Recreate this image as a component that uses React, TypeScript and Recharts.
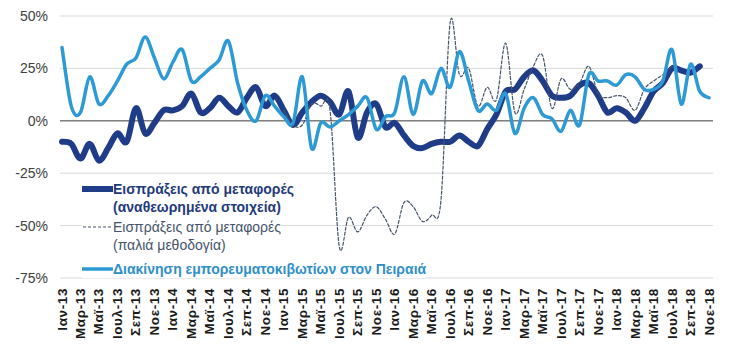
import { CartesianGrid, Line, LineChart, ReferenceLine, XAxis, YAxis } from 'recharts'

// Εισπράξεις από μεταφορές vs διακίνηση εμπορευματοκιβωτίων, μηνιαία Ιαν-13 .. Νοε-18
const MONTHS = ['Ιαν', 'Φεβ', 'Μαρ', 'Απρ', 'Μαϊ', 'Ιουν', 'Ιουλ', 'Αυγ', 'Σεπ', 'Οκτ', 'Νοε', 'Δεκ']
const YEARS = ['13', '14', '15', '16', '17', '18']
const CATEGORIES = YEARS.flatMap((y) => MONTHS.map((m) => `${m}-${y}`)).slice(0, 71)

const Y_TICKS = [-75, -50, -25, 0, 25, 50]

// αναθεωρημένα στοιχεία (%)
const REVISED = [
  -10, -11, -18, -11, -19, -13, -6, -10, 6, -6,
  -1, 5, 5, 7, 13, 4, 6, 11, 7, 4,
  11, 16, 7, 12, 5, -2, 4, 9, 12, 9,
  3, 14, -8, 4, 8, -3, -1, -7, -12, -13,
  -11, -10, -10, -7, -10, -12, -4, 3, 14, 15,
  21, 24, 19, 12, 11, 12, 17, 18, 12, 4,
  6, 4, 0, 6, 14, 18, 25, 24, 23, 26,
  null,
]

// παλιά μεθοδολογία (%)
const OLD_METHOD = [
  null, null, null, null, null, null, null, null, null, null,
  null, null, null, null, null, null, null, null, null, null,
  null, null, null, null, 5, -2, -2, 8, 7, 5,
  -60, -46, -53, -45, -41, -47, -54, -39, -41, -48,
  -45, -38, 47, 22, 25, 7, 16, 10, 37, 4,
  15, 26, 31, 6, 20, 15, 18, 26, 13, 11,
  12, 11, 5, 15, 19, 22, 26, null, null, null,
  null,
]

// εμπορευματοκιβώτια Πειραιά (%)
const PIRAEUS_TEU = [
  35, 7, 4, 21, 8, 12, 19, 27, 30, 40,
  30, 20, 28, 34, 19, 21, 25, 29, 38, 18,
  5, 0, 12, 7, 2, -1, 21, -13, -1, -3,
  0, 3, 7, 11, -4, 2, 4, 21, 3, 19,
  13, 25, 16, 33, 19, 5, 8, 5, 13, -6,
  6, 11, 3, 1, -5, 5, -2, 22, 19, 19,
  17, 22, 21, 15, 15, 19, 34, 8, 27, 14,
  11,
]

const FONT = '"Liberation Sans", Arial, sans-serif'

const SERIES = [
  { key: 'rev', lines: ['Εισπράξεις από μεταφορές', '(αναθεωρημένα στοιχεία)'], color: '#1f3c88', text: '#1f3a7a', width: 6, dash: undefined, bold: true },
  { key: 'old', lines: ['Εισπράξεις από μεταφορές', '(παλιά μεθοδογία)'], color: '#44546a', text: '#44546a', width: 1.2, dash: '3 2', bold: false },
  { key: 'teu', lines: ['Διακίνηση εμπορευματοκιβωτίων στον Πειραιά'], color: '#2e9ad5', text: '#2e8fc8', width: 3.5, dash: undefined, bold: true },
]

// εξομάλυνση τύπου Excel (Catmull-Rom σε Bezier)
function smoothCurve(ctx: any) {
  let pts: number[][] = []
  return {
    areaStart() {},
    areaEnd() {},
    lineStart() {
      pts = []
    },
    lineEnd() {
      const n = pts.length
      if (!n) return
      ctx.moveTo(pts[0][0], pts[0][1])
      for (let i = 0; i < n - 1; i++) {
        const p0 = pts[i - 1] || pts[i]
        const p1 = pts[i]
        const p2 = pts[i + 1]
        const p3 = pts[i + 2] || p2
        ctx.bezierCurveTo(
          p1[0] + (p2[0] - p0[0]) / 6,
          p1[1] + (p2[1] - p0[1]) / 6,
          p2[0] - (p3[0] - p1[0]) / 6,
          p2[1] - (p3[1] - p1[1]) / 6,
          p2[0],
          p2[1],
        )
      }
    },
    point(x: number, y: number) {
      pts.push([+x, +y])
    },
  }
}

function XTick({ x, y, payload }: any) {
  return (
    <text
      x={x}
      y={y}
      transform={`rotate(-90 ${x} ${y})`}
      textAnchor="end"
      dominantBaseline="central"
      fontFamily={FONT}
      fontWeight="bold"
      fontSize={13.5}
      letterSpacing={0.6}
      fill="#1a1a1a"
    >
      {payload.value}
    </text>
  )
}

export default function App() {
  const data = CATEGORIES.map((m, i) => ({ m, rev: REVISED[i], old: OLD_METHOD[i], teu: PIRAEUS_TEU[i] }))
  const legendTop = [180, 218, 260]
  return (
    <div style={{ position: 'absolute', left: 0, top: 0, width: 747, height: 354, background: '#fff', fontFamily: FONT }}>
      <LineChart width={747} height={354} data={data} margin={{ top: 16, right: 34, bottom: 0, left: 0 }}>
        <CartesianGrid vertical={false} stroke="#d9d9d9" strokeWidth={1} />
        <XAxis
          dataKey="m"
          interval={1}
          height={76}
          tickLine={false}
          axisLine={false}
          tickSize={0}
          tickMargin={10}
          padding={{ left: 2, right: 4 }}
          tick={(p: any) => <XTick {...p} />}
        />
        <YAxis
          width={60}
          domain={[-75, 50]}
          ticks={Y_TICKS}
          tickFormatter={(v: number) => `${v}%`}
          tickLine={false}
          axisLine={false}
          tickSize={0}
          tickMargin={12}
          tick={{ fill: '#404040', fontSize: 14, fontFamily: FONT }}
        />
        <ReferenceLine y={0} stroke="#808080" strokeWidth={1.5} />
        {SERIES.map((s) => (
          <Line
            key={s.key}
            dataKey={s.key}
            type={smoothCurve as any}
            stroke={s.color}
            strokeWidth={s.width}
            strokeDasharray={s.dash}
            strokeLinejoin="round"
            strokeLinecap="round"
            dot={false}
            activeDot={false}
            isAnimationActive={false}
          />
        ))}
      </LineChart>
      {SERIES.map((s, i) => (
        <div
          key={s.key}
          style={{ position: 'absolute', left: 82, top: legendTop[i], display: 'flex', alignItems: 'flex-start', background: '#fff' }}
        >
          <svg width={31} height={18} style={{ flex: 'none' }}>
            <line x1={1} x2={30} y1={9} y2={9} stroke={s.color} strokeWidth={s.width} strokeDasharray={s.dash} strokeLinecap={s.dash ? 'butt' : 'round'} />
          </svg>
          <div style={{ color: s.text, fontSize: 14, lineHeight: '18px', fontWeight: s.bold ? 'bold' : 'normal', whiteSpace: 'nowrap' }}>
            {s.lines.map((l) => (
              <div key={l}>{l}</div>
            ))}
          </div>
        </div>
      ))}
    </div>
  )
}
